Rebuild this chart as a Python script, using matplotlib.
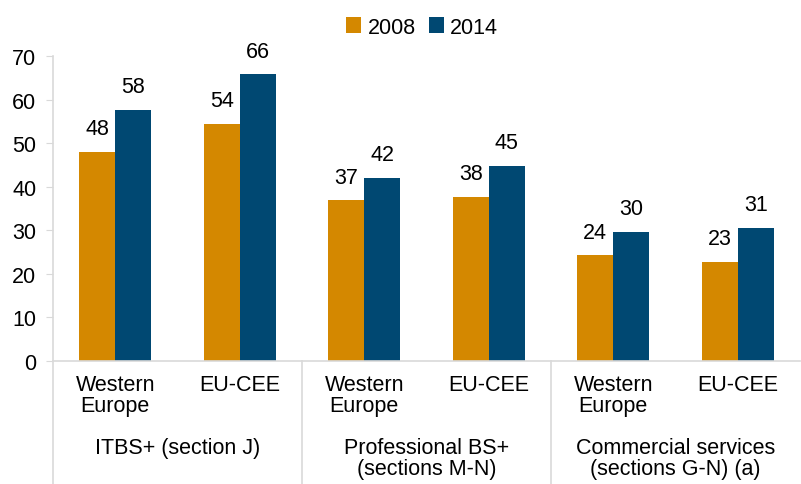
import matplotlib.pyplot as plt
import matplotlib.transforms as mtransforms
import numpy as np

plt.rcParams['font.family'] = ['Liberation Sans', 'DejaVu Sans']

# Data
regions = ['Western\nEurope', 'EU-CEE'] * 3
groups = ['ITBS+ (section J)', 'Professional BS+\n(sections M-N)',
          'Commercial services\n(sections G-N) (a)']
v2008 = [48.0, 54.4, 36.9, 37.7, 24.3, 22.8]
v2014 = [57.7, 65.8, 42.1, 44.8, 29.7, 30.6]
lab2008 = ['48', '54', '37', '38', '24', '23']
lab2014 = ['58', '66', '42', '45', '30', '31']

c2008 = '#D48800'
c2014 = '#004872'
grid_c = '#D9D9D9'
fs = 15.5

fig = plt.figure(figsize=(8.01, 4.85), dpi=100)
ax = fig.add_axes([53/801, 1 - 362/485, 747/801, (362 - 57)/485])

x = np.arange(len(regions))
w = 0.29
b1 = ax.bar(x - w/2, v2008, w, color=c2008, label='2008')
b2 = ax.bar(x + w/2, v2014, w, color=c2014, label='2014')

for bars, labs in [(b1, lab2008), (b2, lab2014)]:
    for bar, t in zip(bars, labs):
        ax.annotate(t, xy=(bar.get_x() + bar.get_width()/2, bar.get_height()),
                    xytext=(0, 9), textcoords='offset points',
                    ha='center', va='bottom', fontsize=fs)

ax.set_xlim(-0.5, len(regions) - 0.5)
ax.set_ylim(0, 70)
ax.set_yticks(range(0, 71, 10))
ax.tick_params(axis='y', labelsize=fs, length=5, color=grid_c, pad=7)
ax.set_xticks([])
for s in ['top', 'right']:
    ax.spines[s].set_visible(False)
for s in ['left', 'bottom']:
    ax.spines[s].set_color(grid_c)
    ax.spines[s].set_linewidth(1.2)

# two-level x labels
trans = mtransforms.blended_transform_factory(ax.transData, ax.transAxes)
below = -(485 - 362) / (362 - 57)
for i, r in enumerate(regions):
    ax.text(x[i], -13/305, r, transform=trans, ha='center', va='top',
            fontsize=fs, linespacing=0.98)
for g, name in enumerate(groups):
    ax.text(2*g + 0.5, -76/305, name, transform=trans, ha='center', va='top',
            fontsize=fs, linespacing=0.98)
for xs in [-0.5, 1.5, 3.5]:
    ax.plot([xs, xs], [0, below], transform=trans, color=grid_c, lw=1.2,
            clip_on=False)

fig.legend(loc='center', bbox_to_anchor=(422/801, 1 - 28/485), ncol=2,
           frameon=False, fontsize=fs, handlelength=0.7, handleheight=0.7,
           handletextpad=0.3, columnspacing=0.6)

fig.savefig('out.png', dpi=100)
